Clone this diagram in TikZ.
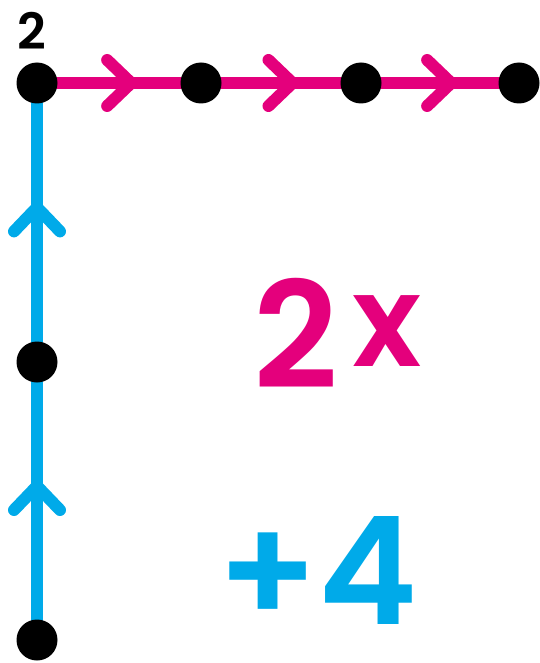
\documentclass[tikz,border=0pt]{standalone}
\usepackage{fontspec}
\setmainfont{Poppins}[UprightFont=* SemiBold]
\usepackage{tikz}
\usetikzlibrary{arrows.meta,decorations.markings,calc,positioning,backgrounds}
\definecolor{pinkline}{RGB}{228,0,124}
\definecolor{blueline}{RGB}{0,170,233}
\tikzset{
  dot/.style={circle, fill=black, minimum size=41pt, inner sep=0pt},
  chevron/.style={line width=12pt, line cap=round, postaction={decorate},
    decoration={markings, mark=at position #1 with {\arrow{Straight Barb[length=24pt, width=46pt, line cap=round]}}}},
  pinkedge/.style={pinkline, chevron=#1},
  blueedge/.style={blueline, chevron=#1}
}
\begin{document}
\begin{tikzpicture}[x=1pt, y=-1pt]
\useasboundingbox (0,0) rectangle (540,663);
%
\node[dot] (c0) at (37,83) {};
\node[dot] (c1) at (201,83) {};
\node[dot] (c2) at (361,83) {};
\node[dot] (c3) at (519,83) {};
\node[dot] (r1) at (37,362) {};
\node[dot] (r2) at (37,640) {};
%
\begin{pgfonlayer}{background}
\draw[blueedge=0.6] (r2) -- (r1);
\draw[blueedge=0.6] (r1) -- (c0);
\draw[pinkedge=0.67] (c0) -- (c1);
\draw[pinkedge=0.67] (c1) -- (c2);
\draw[pinkedge=0.67] (c2) -- (c3);
\end{pgfonlayer}
%
\node[anchor=base, inner sep=0pt, font=\fontsize{50}{50}\selectfont] (start) at (32,50) {2};
\node[anchor=base, inner sep=0pt, text=pinkline, font=\fontsize{148}{148}\selectfont] (slope) at (338,388) {2\hspace{14pt}\raisebox{22pt}{\fontsize{128}{128}\selectfont x}};
\node[anchor=base, inner sep=0pt, text=blueline, font=\fontsize{150}{150}\selectfont] (shift) at (318,624) {+4};
\end{tikzpicture}
\end{document}
